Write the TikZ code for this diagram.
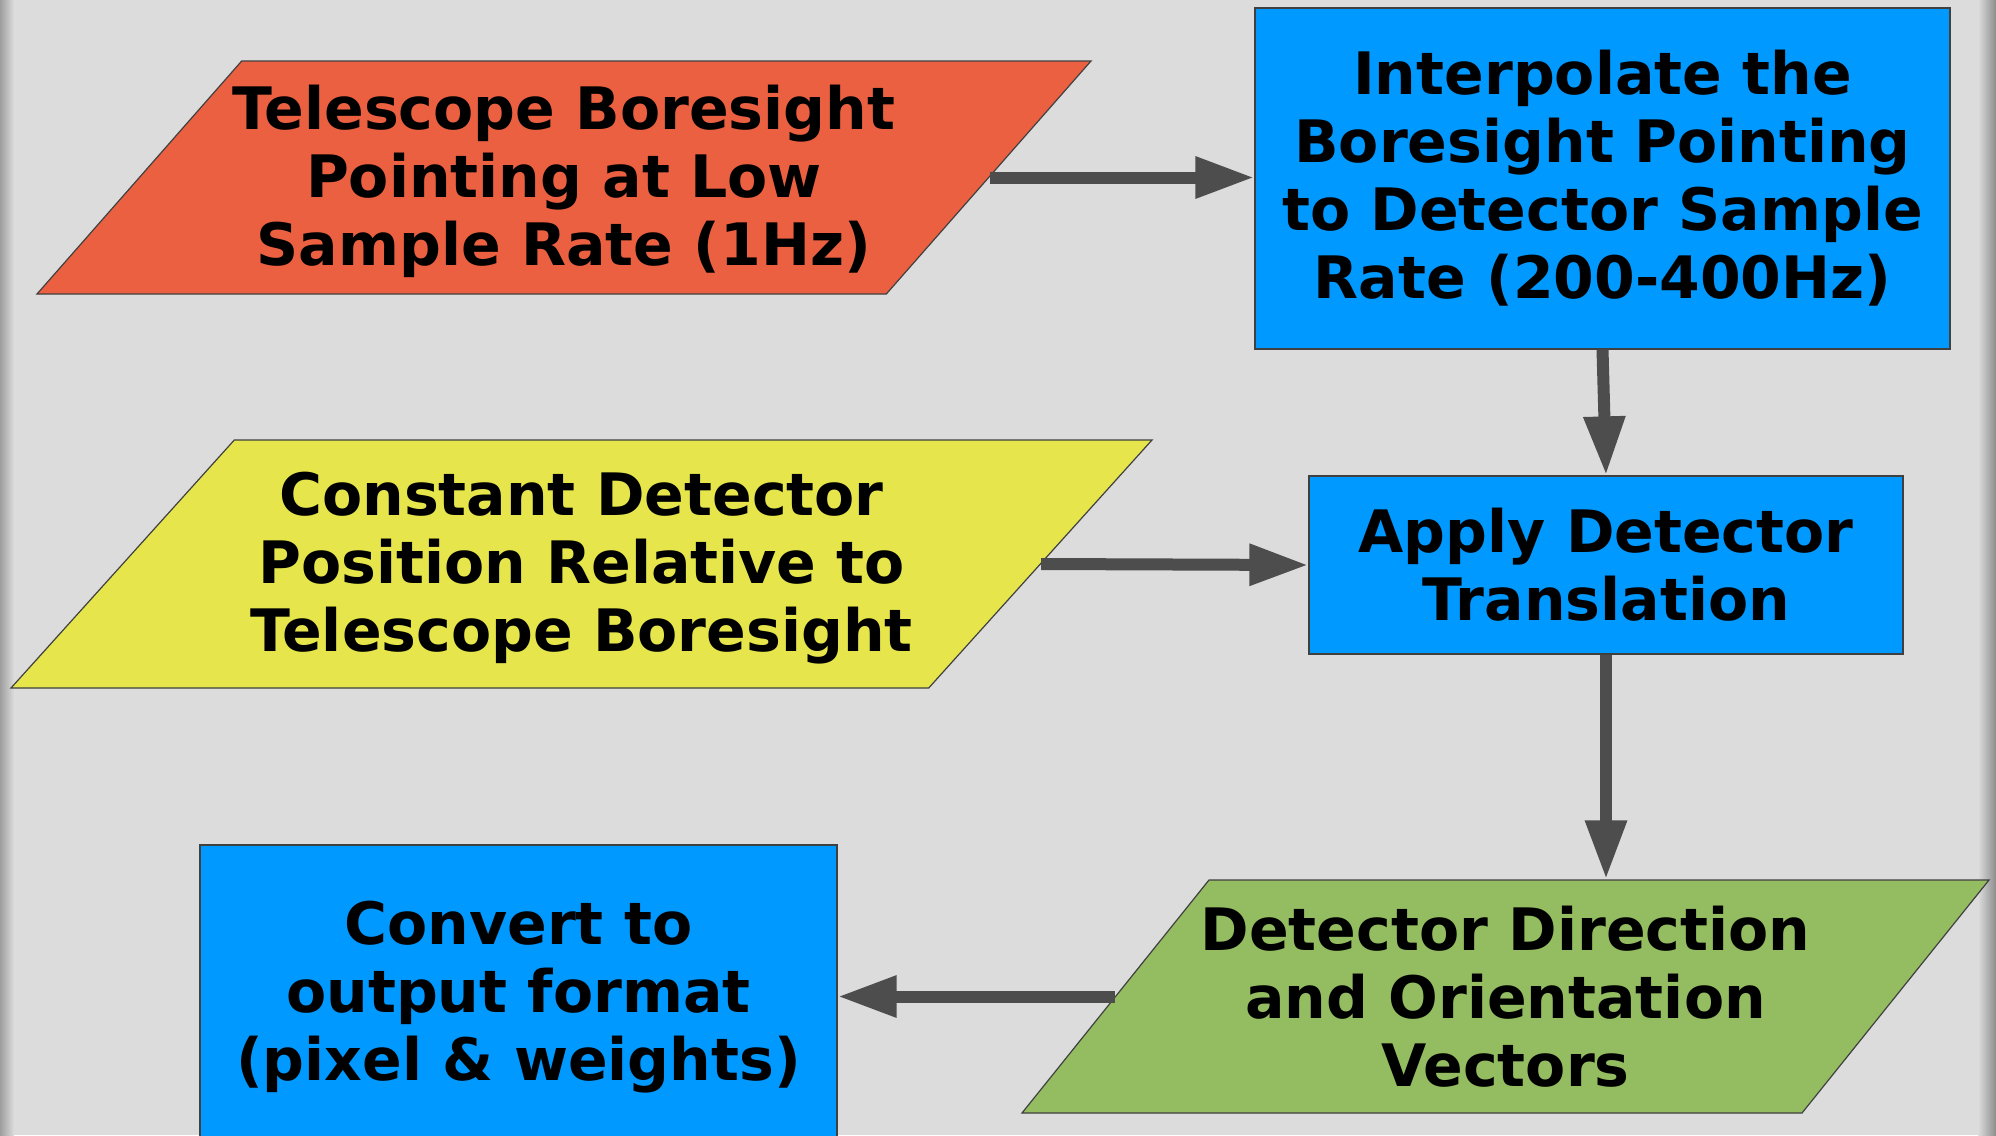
\documentclass[tikz,border=0pt]{standalone}
\usepackage{fontspec}
\newfontfamily\flowfont{DejaVu Sans}
\usetikzlibrary{arrows.meta, shapes.geometric}

\definecolor{bggray}{HTML}{DCDCDC}
\definecolor{inputred}{HTML}{EB6041}
\definecolor{stepblue}{HTML}{0099FF}
\definecolor{inputyellow}{HTML}{E6E64C}
\definecolor{outputgreen}{HTML}{94BC60}
\definecolor{arrowgray}{HTML}{4D4D4D}

\begin{document}
\begin{tikzpicture}[
    x=1pt, y=-1pt,
    boxtext/.style={font=\flowfont\bfseries\fontsize{58.5}{68}\selectfont,
                    align=center},
    process/.style={draw=black!75, line width=1.2pt, fill=stepblue,
                    rectangle, inner sep=0pt, boxtext},
    % slanted input/output boxes: height from inner ysep, body stretched
    data/.style={draw=black!75, line width=1.2pt, trapezium,
                 trapezium stretches body=true, inner xsep=1pt},
    line/.style={draw=arrowgray, line width=12pt,
                 -{Triangle[length=59pt, width=39pt]}}
]

    % page background with the darker side edges
    \useasboundingbox (0,0) rectangle (1996,1135);
    \fill[bggray] (0,0) rectangle (1996,1135);
    \shade[left color=black!38, right color=bggray] (0,0) rectangle (14,1135);
    \shade[left color=bggray, right color=black!45] (1978,0) rectangle (1996,1135);

    % inputs
    \node[data, fill=inputred, trapezium left angle=48.7,
          trapezium right angle=131.3, minimum width=1054pt,
          inner ysep=116.5pt,
          label={[boxtext, yshift=-4pt]center:Telescope Boresight\\Pointing at Low\\Sample Rate (1Hz)}]
          (boresight) at (564,177.5) {};
    \node[data, fill=inputyellow, trapezium left angle=48,
          trapezium right angle=132, minimum width=1141pt,
          inner ysep=124pt,
          label={[boxtext, yshift=-4pt]center:Constant Detector\\Position Relative to\\Telescope Boresight}]
          (detpos) at (581.5,564) {};

    % processing steps
    \node[process, minimum width=695pt, minimum height=341pt]
          (interp) at (1602.5,178.5)
          {Interpolate the\\Boresight Pointing\\to Detector Sample\\Rate (200-400Hz)};
    \node[process, minimum width=594pt, minimum height=178pt]
          (apply) at (1606,565) {Apply Detector\\Translation};

    % output vectors
    \node[data, fill=outputgreen, trapezium left angle=51.25,
          trapezium right angle=128.75, minimum width=967pt,
          inner ysep=116.5pt,
          label={[boxtext]center:Detector Direction\\and Orientation\\Vectors}]
          (detvec) at (1505.5,996.5) {};

    \node[process, minimum width=637pt, minimum height=305pt]
          (convert) at (518.5,997.5) {Convert to\\output format\\(pixel \& weights)};

    \draw[line] (boresight.east) -- (interp.west |- boresight.east);
    \draw[line] (interp.south) -- (apply.north);
    \draw[line] (detpos.east) -- (apply.west);
    \draw[line] (apply.south) -- (apply.south |- detvec.north);
    \draw[line] (detvec.west) -- (convert.east |- detvec.west);

\end{tikzpicture}
\end{document}
